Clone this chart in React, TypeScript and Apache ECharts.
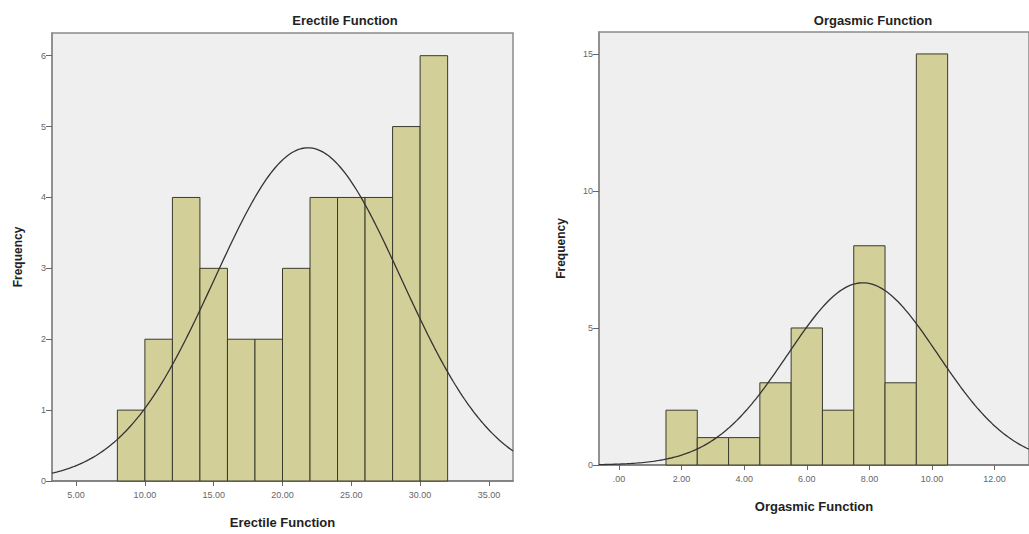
import React, { useEffect, useRef } from "react";
import * as echarts from "echarts";

// Erectile Function histogram (bin width 2)
const efBinStarts = [8, 10, 12, 14, 16, 18, 20, 22, 24, 26, 28, 30];
const efCounts = [1, 2, 4, 3, 2, 2, 3, 4, 4, 4, 5, 6];
const efBinWidth = 2;
const efMean = 21.85;
const efSd = 6.79;
const efTicks = [5, 10, 15, 20, 25, 30, 35];
const efYTicks = [0, 1, 2, 3, 4, 5, 6];

// Orgasmic Function histogram (bin width 1)
const ofBinStarts = [1.5, 2.5, 3.5, 4.5, 5.5, 6.5, 7.5, 8.5, 9.5];
const ofCounts = [2, 1, 1, 3, 5, 2, 8, 3, 15];
const ofBinWidth = 1;
const ofMean = 7.79;
const ofSd = 2.4;
const ofTicks = [0, 2, 4, 6, 8, 10, 12];
const ofYTicks = [0, 5, 10, 15];

const FONT = "Liberation Sans, Arial, sans-serif";

function normalCurve(mean: number, sd: number, n: number, bw: number, lo: number, hi: number) {
  const pts: number[][] = [];
  const steps = 200;
  for (let i = 0; i <= steps; i++) {
    const x = lo + ((hi - lo) * i) / steps;
    const z = (x - mean) / sd;
    const y = (n * bw * Math.exp(-0.5 * z * z)) / (sd * Math.sqrt(2 * Math.PI));
    pts.push([x, y]);
  }
  return pts;
}

function sum(a: number[]) {
  return a.reduce((s, v) => s + v, 0);
}

export default function App() {
  const ref = useRef<HTMLDivElement>(null);
  useEffect(() => {
    if (!ref.current) return;
    const chart = echarts.init(ref.current, undefined, { renderer: "svg" });

    const fmt = (v: number) => (v === 0 ? ".00" : v.toFixed(2));

    const histItem = (params: any, api: any) => {
      const x0 = api.value(0);
      const x1 = api.value(1);
      const c = api.value(2);
      const p0 = api.coord([x0, c]);
      const p1 = api.coord([x1, 0]);
      return {
        type: "rect",
        shape: { x: p0[0], y: p0[1], width: p1[0] - p0[0], height: p1[1] - p0[1] },
        style: { fill: "#d3cf98", stroke: "#3b3b2c", lineWidth: 1 },
      };
    };

    const xAxisCommon = {
      type: "value",
      splitLine: { show: false },
      axisLine: { show: true, onZero: false, lineStyle: { color: "#7a7a7a", width: 1.5 } },
      axisTick: { show: true, length: 5, lineStyle: { color: "#666" } },
      axisLabel: { color: "#666", fontSize: 9, fontFamily: FONT, margin: 9, formatter: fmt },
      nameLocation: "middle",
      nameTextStyle: { fontFamily: FONT, fontWeight: "bold", fontSize: 13, color: "#222" },
    };
    const yAxisCommon = {
      type: "value",
      min: 0,
      splitLine: { show: false },
      axisLine: { show: true, onZero: false, lineStyle: { color: "#8a8a8a", width: 1.5 } },
      axisTick: { show: true, length: 6, lineStyle: { color: "#666" } },
      axisLabel: { color: "#666", fontSize: 9, fontFamily: FONT, margin: 6 },
      nameLocation: "middle",
      nameTextStyle: { fontFamily: FONT, fontWeight: "bold", fontSize: 12, color: "#222" },
    };

    const efN = sum(efCounts);
    const ofN = sum(ofCounts);

    chart.setOption({
      animation: false,
      backgroundColor: "#ffffff",
      title: [
        {
          text: "Erectile Function",
          left: 340,
          top: 9,
          textAlign: "center",
          textStyle: { fontFamily: FONT, fontWeight: "bold", fontSize: 13, color: "#222" },
        },
        {
          text: "Orgasmic Function",
          left: 868,
          top: 9,
          textAlign: "center",
          textStyle: { fontFamily: FONT, fontWeight: "bold", fontSize: 13, color: "#222" },
        },
      ],
      grid: [
        {
          left: 52,
          top: 33,
          width: 461,
          height: 449,
          show: true,
          backgroundColor: "#efefef",
          borderColor: "#8a8a8a",
          borderWidth: 1.5,
        },
        {
          left: 599,
          top: 32,
          width: 450,
          height: 433,
          show: true,
          backgroundColor: "#efefef",
          borderColor: "#8a8a8a",
          borderWidth: 1.5,
        },
      ],
      xAxis: [
        {
          ...xAxisCommon,
          gridIndex: 0,
          min: 3.25,
          max: 36.75,
          name: "Erectile Function",
          nameGap: 35,
          axisTick: { ...xAxisCommon.axisTick, customValues: efTicks },
          axisLabel: { ...xAxisCommon.axisLabel, customValues: efTicks },
        },
        {
          ...xAxisCommon,
          gridIndex: 1,
          min: -0.64,
          max: 13.1,
          name: "Orgasmic Function",
          nameGap: 35,
          axisTick: { ...xAxisCommon.axisTick, customValues: ofTicks },
          axisLabel: { ...xAxisCommon.axisLabel, customValues: ofTicks },
        },
      ],
      yAxis: [
        {
          ...yAxisCommon,
          gridIndex: 0,
          max: 6.32,
          name: "Frequency",
          nameGap: 28,
          axisTick: { ...yAxisCommon.axisTick, customValues: efYTicks },
          axisLabel: { ...yAxisCommon.axisLabel, customValues: efYTicks },
        },
        {
          ...yAxisCommon,
          gridIndex: 1,
          max: 15.8,
          name: "Frequency",
          nameGap: 32,
          axisTick: { ...yAxisCommon.axisTick, customValues: ofYTicks },
          axisLabel: { ...yAxisCommon.axisLabel, customValues: ofYTicks },
        },
      ],
      series: [
        {
          type: "custom",
          xAxisIndex: 0,
          yAxisIndex: 0,
          renderItem: histItem,
          encode: { x: [0, 1], y: 2 },
          data: efBinStarts.map((s, i) => [s, s + efBinWidth, efCounts[i]]),
          z: 2,
        },
        {
          type: "line",
          xAxisIndex: 0,
          yAxisIndex: 0,
          showSymbol: false,
          clip: true,
          lineStyle: { color: "#333", width: 1.3 },
          data: normalCurve(efMean, efSd, efN, efBinWidth, 3.25, 36.75),
          z: 3,
        },
        {
          type: "custom",
          xAxisIndex: 1,
          yAxisIndex: 1,
          renderItem: histItem,
          encode: { x: [0, 1], y: 2 },
          data: ofBinStarts.map((s, i) => [s, s + ofBinWidth, ofCounts[i]]),
          z: 2,
        },
        {
          type: "line",
          xAxisIndex: 1,
          yAxisIndex: 1,
          showSymbol: false,
          clip: true,
          lineStyle: { color: "#333", width: 1.3 },
          data: normalCurve(ofMean, ofSd, ofN, ofBinWidth, -0.64, 13.1),
          z: 3,
        },
      ],
    });
    return () => chart.dispose();
  }, []);

  return (
    <div
      ref={ref}
      style={{ position: "fixed", left: 0, top: 0, width: 1029, height: 534 }}
    />
  );
}
